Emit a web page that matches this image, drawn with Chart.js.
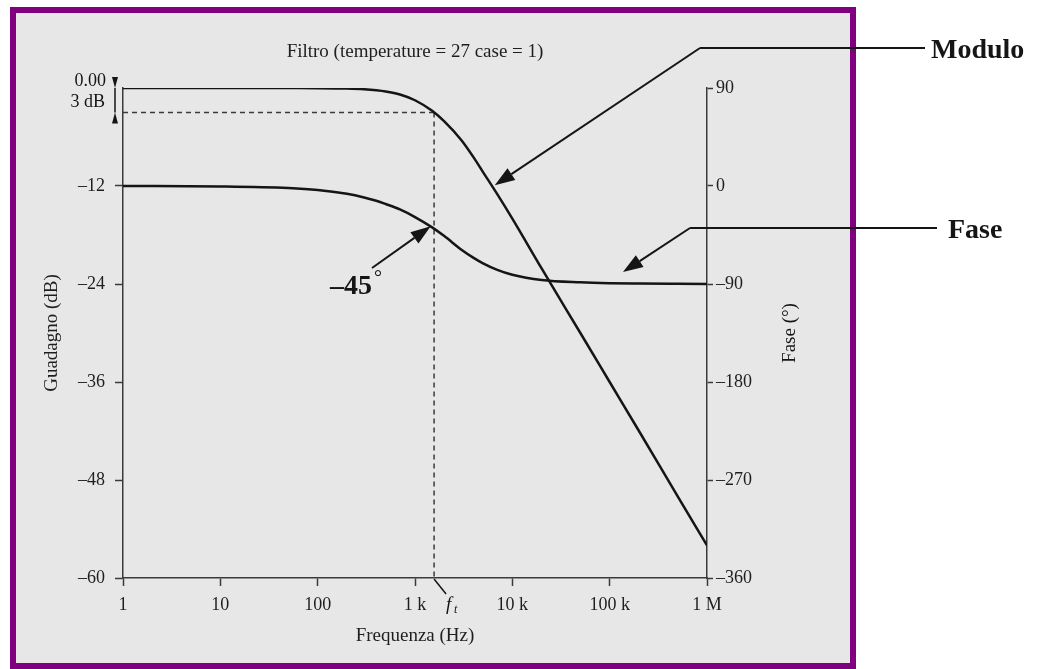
<!DOCTYPE html>
<html lang="it">
<head>
<meta charset="utf-8">
<script src="https://cdn.jsdelivr.net/npm/chart.js@4.4.1/dist/chart.umd.min.js"></script>
<title>Filtro passa-basso</title>
<style>
  html, body { margin: 0; padding: 0; background: #fff; }
  .pagina { position: absolute; left: 10px; top: 7px; width: 834px; height: 650px;
            border: 6px solid #800080; background: #e7e7e7; }
  #grafico { position: absolute; left: 0; top: 0; }
</style>
</head>
<body>
<div class="pagina"></div>
<canvas id="grafico" width="1037" height="669"></canvas>
<script>
// valori
const frequenze = [1, 10, 50, 100, 200, 300, 400, 500, 700, 1000, 1500, 2000, 3000, 4000, 5000, 7000,
                   10000, 20000, 50000, 100000, 200000, 500000, 1000000];
const guadagno = [0, 0, -0.01, -0.02, -0.07, -0.15, -0.27, -0.42, -0.8, -1.5, -2.8, -4.1, -6.4, -8.5,
                  -10.3, -13.0, -16.0, -22.1, -30.0, -36.0, -42.0, -50.0, -56.0];
const fase = [0, -0.4, -1.8, -3.6, -7.2, -10.5, -13.5, -16.5, -21.5, -28.5, -38, -46, -58.5, -66, -71,
              -77, -81.5, -86.3, -88.5, -89.3, -89.6, -89.8, -89.9];

const tickFreq = [1, 10, 100, 1000, 10000, 100000, 1000000];
const etichetteFreq = ['1', '10', '100', '1 k', '10 k', '100 k', '1 M'];
const fTaglio = 1570;   // f_t, dove il modulo scende di 3 dB

const serif = "'Liberation Serif', 'Times New Roman', serif";
const nero = '#151515';
const assi = '#3a3a3a';

Chart.defaults.font.family = serif;
Chart.defaults.color = '#1e1e1e';

function meno(v) { return String(v).replace('-', '\u2013'); }

function freccia(ctx, x0, y0, x1, y1) {
  const a = Math.atan2(y1 - y0, x1 - x0), L = 20, W = 7;
  const bx = x1 - L * Math.cos(a), by = y1 - L * Math.sin(a);
  ctx.beginPath(); ctx.moveTo(x0, y0); ctx.lineTo(bx, by); ctx.stroke();
  ctx.beginPath(); ctx.moveTo(x1, y1);
  ctx.lineTo(bx + W * Math.sin(a), by - W * Math.cos(a));
  ctx.lineTo(bx - W * Math.sin(a), by + W * Math.cos(a));
  ctx.closePath(); ctx.fill();
}

const annotazioni = {
  id: 'annotazioni',
  beforeDatasetsDraw(chart) {
    const {ctx, chartArea: a, scales: {x, y}} = chart;
    const xf = x.getPixelForValue(fTaglio), y3 = y.getPixelForValue(-3);
    ctx.save();
    ctx.strokeStyle = assi; ctx.lineWidth = 1.5; ctx.setLineDash([5, 4]);
    ctx.beginPath();
    ctx.moveTo(a.left, y3); ctx.lineTo(xf, y3);
    ctx.moveTo(xf, y3); ctx.lineTo(xf, a.bottom);
    ctx.stroke();
    ctx.restore();
  },
  afterDraw(chart) {
    const {ctx, chartArea: a, scales: {x, y, y1}} = chart;
    const y0 = y.getPixelForValue(0), y3 = y.getPixelForValue(-3);
    const xf = x.getPixelForValue(fTaglio);
    ctx.save();
    ctx.strokeStyle = nero; ctx.fillStyle = nero; ctx.lineWidth = 1.5;

    // quota 3 dB
    const xm = a.left - 8;
    ctx.beginPath(); ctx.moveTo(xm, y0); ctx.lineTo(xm, y3); ctx.stroke();
    ctx.beginPath(); ctx.moveTo(xm, y0); ctx.lineTo(xm - 3, y0 - 11); ctx.lineTo(xm + 3, y0 - 11); ctx.fill();
    ctx.beginPath(); ctx.moveTo(xm, y3); ctx.lineTo(xm - 3, y3 + 11); ctx.lineTo(xm + 3, y3 + 11); ctx.fill();
    ctx.font = '18px ' + serif;
    ctx.textAlign = 'right'; ctx.textBaseline = 'middle';
    ctx.fillText('0.00', 106, y0 - 7);
    ctx.fillText('3 dB', 105, y3 - 10);

    // f_t
    ctx.beginPath(); ctx.moveTo(xf, a.bottom + 1); ctx.lineTo(xf + 12, a.bottom + 16); ctx.stroke();
    ctx.textAlign = 'left';
    ctx.font = 'italic 19px ' + serif;
    ctx.fillText('f', xf + 12, 605);
    ctx.font = 'italic 12px ' + serif;
    ctx.fillText('t', xf + 20, 610);

    // titolo asse destro
    ctx.save();
    ctx.translate(790, (a.top + a.bottom) / 2);
    ctx.rotate(-Math.PI / 2);
    ctx.textAlign = 'center';
    ctx.font = '19px ' + serif;
    ctx.fillText('Fase (\u00b0)', 0, 0);
    ctx.restore();

    // richiami
    ctx.lineWidth = 2;
    ctx.beginPath(); ctx.moveTo(925, 48); ctx.lineTo(700, 48); ctx.stroke();
    freccia(ctx, 700, 48, x.getPixelForValue(6600), y.getPixelForValue(-11.9));
    ctx.beginPath(); ctx.moveTo(937, 228); ctx.lineTo(690, 228); ctx.stroke();
    freccia(ctx, 690, 228, x.getPixelForValue(137000), y1.getPixelForValue(-79));
    freccia(ctx, 372, 268, x.getPixelForValue(1450), y1.getPixelForValue(-37));

    ctx.textBaseline = 'alphabetic'; ctx.textAlign = 'left';
    ctx.font = 'bold 28px ' + serif;
    ctx.fillText('Modulo', 931, 58);
    ctx.fillText('Fase', 948, 238);
    ctx.fillText('\u201345', 330, 294);
    ctx.font = '20px ' + serif;
    ctx.fillText('\u00b0', 374, 284);
    ctx.restore();
  }
};

new Chart(document.getElementById('grafico'), {
  type: 'line',
  data: {
    datasets: [
      { label: 'Modulo', data: frequenze.map((f, i) => ({x: f, y: guadagno[i]})), yAxisID: 'y' },
      { label: 'Fase', data: frequenze.map((f, i) => ({x: f, y: fase[i]})), yAxisID: 'y1' }
    ]
  },
  options: {
    responsive: false,
    animation: false,
    devicePixelRatio: 1,
    layout: { padding: { left: 30, right: 230, top: 0, bottom: 11 } },
    elements: {
      line: { borderColor: nero, borderWidth: 2.5, cubicInterpolationMode: 'monotone' },
      point: { radius: 0 }
    },
    plugins: {
      legend: { display: false },
      tooltip: { enabled: false },
      title: {
        display: true, fullSize: false,
        text: 'Filtro (temperature = 27 case = 1)',
        font: { size: 19, weight: 'normal' }, color: '#1e1e1e',
        padding: { top: 40.6, bottom: 24.6 }
      }
    },
    scales: {
      x: {
        type: 'logarithmic', min: 1, max: 1000000,
        afterBuildTicks: s => { s.ticks = tickFreq.map(v => ({value: v})); },
        afterFit: s => { s.height = 80; },
        ticks: { autoSkip: false, maxRotation: 0, padding: 8, font: { size: 18 },
                 callback: (v, i) => etichetteFreq[i] },
        grid: { drawOnChartArea: false, tickLength: 8, tickColor: assi, tickWidth: 1.5 },
        border: { color: assi, width: 1.5 },
        title: { display: true, text: 'Frequenza (Hz)', font: { size: 19 }, padding: { top: 0, bottom: 10.6 } }
      },
      y: {
        position: 'left', min: -60, max: 0,
        afterFit: s => { s.width = 93; },
        ticks: { stepSize: 12, padding: 10, font: { size: 18 },
                 callback: v => v === 0 ? '' : meno(v) },
        grid: { drawOnChartArea: false, tickLength: 8, tickWidth: 1.5,
                tickColor: c => (c.tick && c.tick.value === 0) ? 'rgba(0,0,0,0)' : assi },
        border: { color: assi, width: 1.5 },
        title: { display: true, text: 'Guadagno (dB)', font: { size: 19 }, padding: { top: 10.6, bottom: 0 } }
      },
      y1: {
        position: 'right', min: -360, max: 90,
        afterFit: s => { s.width = 100; },
        ticks: { stepSize: 90, padding: 3, font: { size: 18 }, callback: v => meno(v) },
        grid: { drawOnChartArea: false, tickLength: 6, tickColor: assi, tickWidth: 1.5 },
        border: { color: assi, width: 1.5 }
      }
    }
  },
  plugins: [annotazioni]
});
</script>
</body>
</html>
